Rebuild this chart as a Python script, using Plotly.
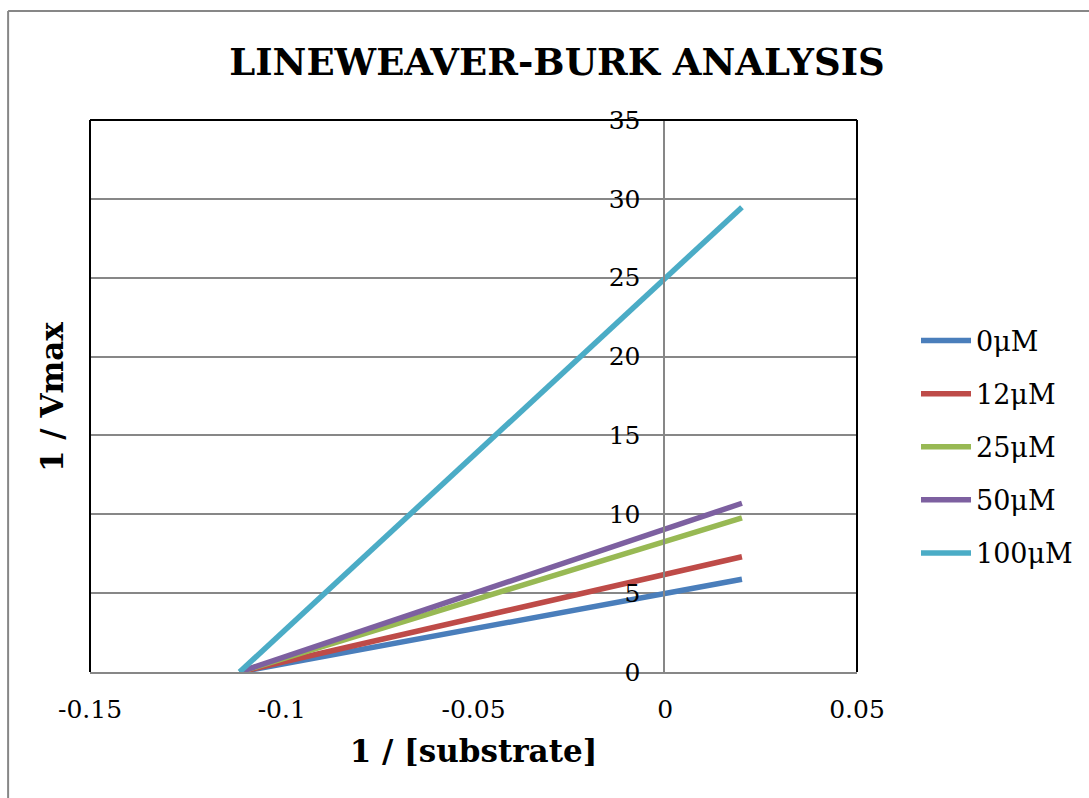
import plotly.graph_objects as go

# Data
series_names = ["0μM", "12μM", "25μM", "50μM", "100μM"]
x_values = [-0.111, 0.02]
y_0uM = [0, 5.88]
y_12uM = [0, 7.31]
y_25uM = [0, 9.78]
y_50uM = [0, 10.70]
y_100uM = [0, 29.47]
series_values = [y_0uM, y_12uM, y_25uM, y_50uM, y_100uM]
colors = ["#4A7EBB", "#BE4B48", "#98B954", "#7D60A0", "#4BACC6"]
x_ticks = [-0.15, -0.1, -0.05, 0, 0.05]
x_tick_labels = ["-0.15", "-0.1", "-0.05", "0", "0.05"]
y_ticks = [0, 5, 10, 15, 20, 25, 30, 35]

SERIF = "DejaVu Serif"

fig = go.Figure()
for name, ys, c in zip(series_names, series_values, colors):
    fig.add_trace(go.Scatter(
        x=x_values, y=ys, name=name, mode="lines",
        line=dict(color=c, width=5.5), legendgroup=name,
    ))

L, R, T, B = 90, 858, 120, 672
W, H = 1089, 798
pw, ph = R - L, B - T

def px_x(p):
    return (p - L) / pw

def px_y(p):
    return (B - p) / ph

fig.update_layout(
    width=W, height=H,
    margin=dict(l=L, r=W - R, t=T, b=H - B, pad=0),
    paper_bgcolor="white", plot_bgcolor="white",
    title=dict(text="<b>LINEWEAVER-BURK ANALYSIS</b>", x=557 / W, xanchor="center",
               y=1 - 62 / H, yanchor="middle",
               font=dict(family=SERIF, size=37, color="black")),
    font=dict(family=SERIF, color="black"),
    legend=dict(x=px_x(916), xanchor="left", y=px_y(447), yanchor="middle",
                font=dict(family=SERIF, size=27, color="black"),
                itemwidth=50, tracegroupgap=15, bgcolor="rgba(0,0,0,0)"),
    showlegend=True,
    xaxis=dict(range=[-0.15, 0.05], tickvals=x_ticks, ticktext=x_tick_labels,
               showgrid=False, zeroline=False, showline=True, linecolor="#878787",
               linewidth=2, ticks="", tickfont=dict(family=SERIF, size=25),
               ticklabelstandoff=14,
               title=dict(text="<b>1 / [substrate]</b>", font=dict(family=SERIF, size=31),
                          standoff=17)),
    yaxis=dict(range=[0, 35], tickvals=y_ticks, anchor="free", position=px_x(665),
               showgrid=True, gridcolor="#878787", gridwidth=1.5, zeroline=False,
               showline=True, linecolor="#878787", linewidth=1.5, ticks="",
               tickfont=dict(family=SERIF, size=25), ticklabelstandoff=18),
)

# Y axis title placed at left like the reference
fig.add_annotation(text="<b>1 / Vmax</b>", xref="paper", yref="paper",
                   x=px_x(52), y=px_y(397), textangle=-90, showarrow=False,
                   font=dict(family=SERIF, size=31, color="black"),
                   xanchor="center", yanchor="middle")

# plot area border (black top, left, right)
for x0, y0, x1, y1 in [(0, 1, 1, 1), (0, 0, 0, 1), (1, 0, 1, 1)]:
    fig.add_shape(type="line", xref="paper", yref="paper", x0=x0, y0=y0, x1=x1, y1=y1,
                  line=dict(color="black", width=2), layer="above")

# outer chart border (gray, top and left)
fig.add_shape(type="line", xref="paper", yref="paper", x0=px_x(8), y0=px_y(11),
              x1=px_x(1095), y1=px_y(11), line=dict(color="#878787", width=2))
fig.add_shape(type="line", xref="paper", yref="paper", x0=px_x(8), y0=px_y(11),
              x1=px_x(8), y1=px_y(805), line=dict(color="#878787", width=2))

fig.write_html("out.html", config={"displayModeBar": False},
               post_script="document.body.style.margin='0';")
